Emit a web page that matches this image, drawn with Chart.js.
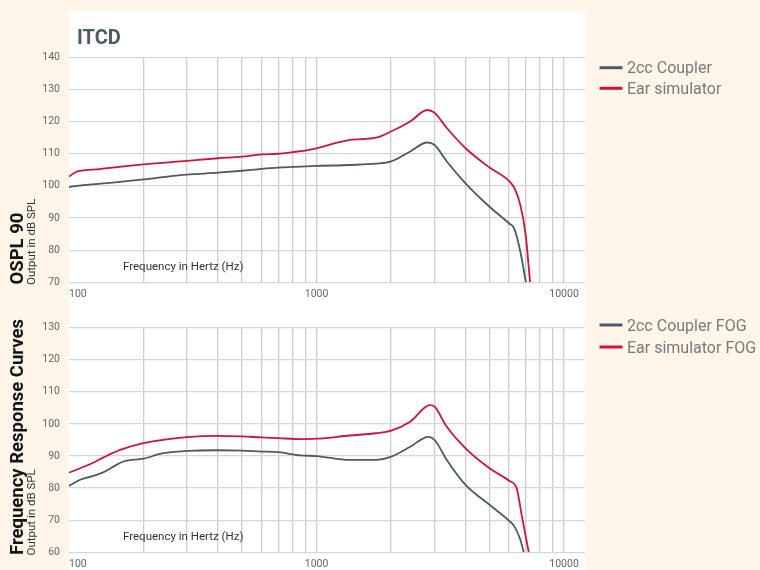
<!DOCTYPE html>
<html>
<head>
<meta charset="utf-8">
<script src="https://cdn.jsdelivr.net/npm/chart.js@4.4.1/dist/chart.umd.min.js"></script>
<style>
  html, body { margin: 0; padding: 0; background: #fdf6e9; }
  #page { position: relative; width: 760px; height: 570px; overflow: hidden; }
  #panel { position: absolute; left: 69px; top: 12px; width: 516px; height: 558px; background: #ffffff; }
  .box { position: absolute; left: 0; width: 760px; }
  #box1 { top: 0; height: 300px; }
  #box2 { top: 300px; height: 270px; }
</style>
</head>
<body>
<div id="page">
  <div id="panel"></div>
  <div class="box" id="box1"><canvas id="ospl"></canvas></div>
  <div class="box" id="box2"><canvas id="frc"></canvas></div>
</div>
<script>
// ---- OSPL 90 (output in dB SPL vs frequency in Hz) ----
const osplCouplerHz = [100, 108, 150, 200, 250, 300, 400, 500, 600, 700, 800, 1000, 1365, 1740, 2000, 2390, 2800, 3000, 3360, 4000, 5000, 6000, 6290, 6660, 7010];
const osplCoupler   = [99.6, 100.0, 101.0, 102.0, 102.9, 103.5, 104.1, 104.7, 105.3, 105.7, 105.9, 106.2, 106.5, 106.9, 107.6, 110.7, 113.5, 112.7, 107.6, 100.8, 93.5, 88.3, 86.7, 79.5, 70];
const osplEarHz     = [100, 108, 133, 150, 200, 300, 400, 500, 600, 700, 800, 900, 1000, 1365, 1740, 2000, 2390, 2800, 3000, 3360, 4000, 5000, 6000, 6310, 6660, 7000, 7290];
const osplEar       = [102.9, 104.5, 105.2, 105.7, 106.7, 107.8, 108.6, 109.1, 109.8, 110.0, 110.5, 111.0, 111.7, 114.3, 115.0, 116.9, 120.0, 123.6, 122.7, 118.0, 111.7, 105.7, 101.5, 99.2, 94.0, 84.6, 70];

// ---- Frequency response curves (full-on gain) ----
const fogCouplerHz = [100, 111, 125, 138, 151, 166, 200, 240, 300, 400, 500, 600, 700, 860, 1000, 1365, 1740, 2000, 2390, 2830, 3000, 3360, 4000, 5000, 6000, 6310, 6660, 6870];
const fogCoupler   = [80.7, 82.6, 83.8, 85.0, 86.7, 88.3, 89.2, 90.9, 91.6, 91.8, 91.7, 91.4, 91.2, 90.2, 90.0, 88.8, 88.8, 89.8, 92.9, 96.0, 95.0, 88.8, 81.0, 74.8, 69.8, 68.0, 63.9, 60];
const fogEarHz     = [100, 111, 125, 138, 161, 200, 300, 400, 500, 600, 700, 860, 1000, 1365, 1740, 2000, 2390, 2870, 3000, 3360, 4000, 5000, 6000, 6430, 6760, 7200];
const fogEar       = [84.8, 86.2, 87.9, 89.6, 91.9, 94.0, 95.9, 96.3, 96.1, 95.8, 95.6, 95.3, 95.4, 96.4, 97.1, 97.9, 100.7, 105.9, 105.4, 99.1, 92.4, 86.2, 82.3, 80.0, 71.1, 60];

// ---- Axes ----
const freqMin = 100;
const freqMax = 12150;
const freqGrid = [100, 200, 300, 400, 500, 600, 700, 800, 900, 1000, 2000, 3000, 4000, 5000, 6000, 7000, 8000, 9000, 10000, 12150];
const freqLabels = [100, 1000, 10000];

const COUPLER = '#4b5a66';
const EAR = '#d3123c';

const pts = (xs, ys) => xs.map((x, i) => ({ x, y: ys[i] }));

// Title, in-plot axis caption, rotated side labels and legend
const annotate = {
  id: 'annotate',
  afterDraw(chart, args, o) {
    const ctx = chart.ctx;
    const a = chart.chartArea;
    ctx.save();
    ctx.textAlign = 'left';
    if (o.title) {
      ctx.font = 'bold 20px Roboto';
      ctx.fillStyle = '#4b5a66';
      ctx.textBaseline = 'alphabetic';
      ctx.fillText(o.title, 77, 44);
    }
    ctx.font = '11.5px Roboto';
    ctx.fillStyle = '#333333';
    ctx.textBaseline = 'middle';
    ctx.fillText('Frequency in Hertz (Hz)', a.left + 54, a.bottom - 15.6);

    // rotated labels on the left
    ctx.save();
    ctx.textBaseline = 'alphabetic';
    ctx.translate(23, o.sideY);
    ctx.rotate(-Math.PI / 2);
    ctx.font = 'bold 18.5px Roboto';
    ctx.fillStyle = '#151515';
    ctx.fillText(o.side, 0, 0);
    ctx.restore();
    ctx.save();
    ctx.textBaseline = 'alphabetic';
    ctx.translate(34.5, o.sideY + 0.5);
    ctx.rotate(-Math.PI / 2);
    ctx.font = '11.5px Roboto';
    ctx.fillStyle = '#333333';
    ctx.fillText('Output in dB SPL', 0, 0);
    ctx.restore();

    // legend
    chart.data.datasets.forEach((ds, i) => {
      const y = o.legendY[i];
      ctx.beginPath();
      ctx.moveTo(599.5, y);
      ctx.lineTo(622.5, y);
      ctx.lineWidth = 3;
      ctx.strokeStyle = ds.borderColor;
      ctx.stroke();
      ctx.font = '16px Roboto';
      ctx.fillStyle = '#7a7a7a';
      ctx.textBaseline = 'alphabetic';
      ctx.fillText(ds.label, 627, y + 5.6);
    });
    ctx.restore();
  }
};

function makeChart(id, cfg) {
  return new Chart(document.getElementById(id), {
    type: 'line',
    data: {
      datasets: [
        { label: cfg.labels[0], data: pts(cfg.cx, cfg.cy), borderColor: COUPLER, backgroundColor: COUPLER },
        { label: cfg.labels[1], data: pts(cfg.ex, cfg.ey), borderColor: EAR, backgroundColor: EAR }
      ]
    },
    options: {
      responsive: true,
      maintainAspectRatio: false,
      devicePixelRatio: 1,
      animation: false,
      datasets: {
        line: { borderWidth: 1.8, pointRadius: 0, cubicInterpolationMode: 'monotone', fill: false }
      },
      layout: { padding: { top: cfg.top, right: 175, left: 0, bottom: 0 } },
      plugins: {
        legend: { display: false },
        tooltip: { enabled: false },
        annotate: { title: cfg.title, side: cfg.side, sideY: cfg.sideY, legendY: cfg.legendY }
      },
      scales: {
        x: {
          type: 'logarithmic',
          min: freqMin,
          max: freqMax,
          afterBuildTicks: (s) => { s.ticks = freqGrid.map(v => ({ value: v })); },
          afterFit: (s) => { s.height = 17.7; },
          grid: {
            drawTicks: false,
            lineWidth: 1.3,
            color: (c) => (c.tick && (c.tick.value === freqMin || c.tick.value === freqMax)) ? 'rgba(0,0,0,0)' : '#cdcdcd'
          },
          border: { display: false },
          ticks: {
            autoSkip: false,
            maxRotation: 0,
            align: 'inner',
            padding: 6,
            color: '#666666',
            font: { family: 'Roboto', size: 10.5 },
            callback: (v) => freqLabels.includes(v) ? String(v) : ''
          }
        },
        y: {
          min: cfg.ymin,
          max: cfg.ymax,
          afterFit: (s) => { s.width = 69; },
          grid: { drawTicks: false, lineWidth: 1.3, color: '#d6d6d6' },
          border: { display: false },
          ticks: {
            stepSize: 10,
            padding: 9,
            color: '#666666',
            font: { family: 'Roboto', size: 10.5 }
          }
        }
      }
    },
    plugins: [annotate]
  });
}

makeChart('ospl', {
  labels: ['2cc Coupler', 'Ear simulator'],
  cx: osplCouplerHz, cy: osplCoupler, ex: osplEarHz, ey: osplEar,
  ymin: 70, ymax: 140, top: 57.3,
  title: 'ITCD', side: 'OSPL 90', sideY: 284.5, legendY: [67.7, 88.3]
});

makeChart('frc', {
  labels: ['2cc Coupler FOG', 'Ear simulator FOG'],
  cx: fogCouplerHz, cy: fogCoupler, ex: fogEarHz, ey: fogEar,
  ymin: 60, ymax: 130, top: 27.7,
  title: null, side: 'Frequency Response Curves', sideY: 255, legendY: [25, 47]
});
</script>
</body>
</html>
